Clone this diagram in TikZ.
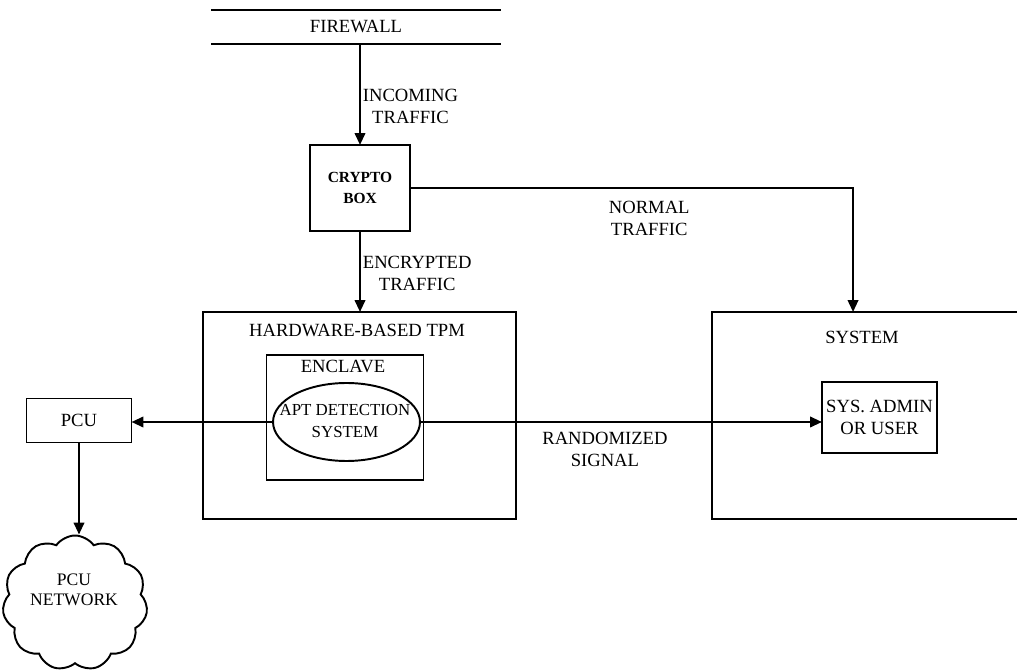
\documentclass[tikz,border=0pt]{standalone}
\usepackage{fontspec}
\setmainfont{Liberation Serif}
\usetikzlibrary{arrows.meta,shapes.geometric,shapes.symbols,positioning,calc}

\tikzset{
  blk/.style={draw, line width=1.1pt, inner sep=1pt, outer sep=0pt, align=center},
  lbl/.style={align=center, inner sep=1pt},
  flow/.style={line width=1.3pt, -{Triangle[length=2.4mm,width=2.1mm]}},
}

\begin{document}
\begin{tikzpicture}[x=0.02cm, y=-0.02cm]

  \fontsize{10.6}{12.5}\selectfont

  \clip (0,0) rectangle (1017,671);

  % firewall
  \node[minimum width=5.78cm, minimum height=0.68cm] (fw) at (356,27) {FIREWALL};
  \draw[line width=1.1pt] (fw.north west) -- (fw.north east);
  \draw[line width=1.1pt] (fw.south west) -- (fw.south east);

  \node[blk, minimum width=2cm, minimum height=1.72cm, font=\fontsize{8.8}{12}\selectfont\bfseries] (crypto) at (360,188) {CRYPTO\\BOX};

  % TPM side
  \node[blk, minimum width=6.26cm, minimum height=4.14cm] (tpm) at (359.5,415.5) {};
  \node[lbl] (tpmtitle) at (357,330) {HARDWARE-BASED TPM};
  \node[blk, minimum width=3.14cm, minimum height=2.5cm] (encl) at (345,417.5) {};
  \node[lbl] (encltitle) at (343,366) {ENCLAVE};
  \node[draw, ellipse, line width=1.1pt, outer sep=0pt, minimum width=2.94cm, minimum height=1.56cm] (apt) at (346.5,422) {};
  \node[lbl, font=\fontsize{9.6}{12.5}\selectfont] (apttext) at (345,421) {APT DETECTION\\SYSTEM};

  \node[blk, minimum width=2.1cm, minimum height=0.88cm] (pcu) at (79,420.5) {PCU};
  \node[draw, cloud, line width=1.1pt, cloud puffs=11, cloud puff arc=110, aspect=1.05, minimum width=2.9cm, minimum height=2.7cm] (cloud) at (75,603) {};
  \node[lbl, font=\fontsize{10}{11.5}\selectfont] (cloudtext) at (74,590) {PCU\\NETWORK};

  % system side
  \node[blk, minimum width=6.8cm, minimum height=4.14cm] (sys) at (882,415.5) {};
  \node[lbl] (systitle) at (862,337) {SYSTEM};
  \node[blk, minimum width=2.3cm, minimum height=1.42cm] (admin) at (879.5,417.5) {SYS. ADMIN\\OR USER};

  % connectors
  \draw[flow] (fw.south -| crypto.north) -- node[lbl, right, pos=0.62] (inlbl) {INCOMING\\TRAFFIC} (crypto.north);
  \draw[flow] (crypto.east) -| node[lbl, below, pos=0.27, yshift=-6pt] (nlbl) {NORMAL\\TRAFFIC} ($(sys.north west)+(141,0)$); % to system
  \draw[flow] (crypto.south) -- node[lbl, right, pos=0.52] (enlbl) {ENCRYPTED\\TRAFFIC} (crypto.south |- tpm.north);
  \draw[flow] (apt.west) -- (apt.west -| pcu.east);
  \draw[flow] (pcu.south) -- (pcu.south |- cloud.north);
  \draw[flow] (apt.east) -- node[lbl, below, pos=0.46, yshift=-4pt] (rlbl) {RANDOMIZED\\SIGNAL} (apt.east -| admin.west);

\end{tikzpicture}
\end{document}
